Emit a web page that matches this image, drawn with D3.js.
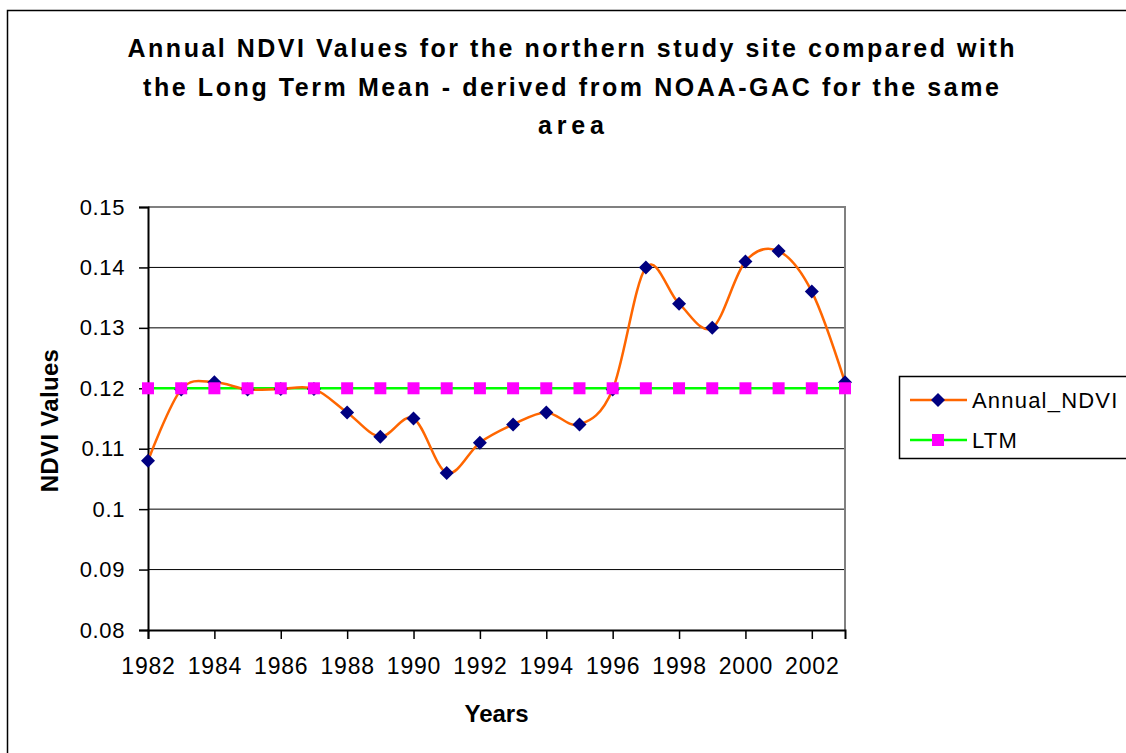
<!DOCTYPE html>
<html>
<head>
<meta charset="utf-8">
<script src="https://cdn.jsdelivr.net/npm/d3@7"></script>
<style>
  html, body { margin: 0; padding: 0; background: #fff; }
  svg { display: block; font-family: "Liberation Sans", Arial, sans-serif; }
</style>
</head>
<body>
<div id="chart"></div>
<script>
const years = d3.range(1982, 2004);
const annualNdvi = [0.108, 0.1198, 0.121, 0.1198, 0.1199, 0.1199, 0.116, 0.112, 0.115, 0.106, 0.111,
  0.114, 0.116, 0.114, 0.1198, 0.140, 0.134, 0.130, 0.141, 0.1427, 0.136, 0.121];
const ltm = years.map(() => 0.12);
const yTicks = [0.08, 0.09, 0.1, 0.11, 0.12, 0.13, 0.14, 0.15];
const xTickYears = d3.range(1982, 2003, 2);
const titleLines = [
  "Annual NDVI Values for the northern study site compared with",
  "the Long Term Mean - derived from NOAA-GAC for the same",
  "area"
];
const seriesNames = ["Annual_NDVI", "LTM"];

const width = 1126;
const height = 753;
const plot = { left: 148, right: 845, top: 207, bottom: 630 };

const svg = d3.select("#chart")
  .append("svg")
  .attr("width", width)
  .attr("height", height);

// outer chart frame
svg.append("rect")
  .attr("x", 7.5).attr("y", 10.5)
  .attr("width", width + 20).attr("height", height + 20)
  .attr("fill", "#fff")
  .attr("stroke", "#000")
  .attr("stroke-width", 1.5);

const x = d3.scaleLinear().domain([1982, 2003]).range([plot.left, plot.right]);
const y = d3.scaleLinear().domain([0.08, 0.15]).range([plot.bottom, plot.top]);

// title
const titleWidths = [887, 856, 66];
titleLines.forEach((line, i) => {
  svg.append("text")
    .attr("x", 571)
    .attr("y", 57 + i * 38.5)
    .attr("text-anchor", "middle")
    .attr("font-size", 25)
    .attr("font-weight", "bold")
    .attr("fill", "#000")
    .attr("textLength", titleWidths[i])
    .attr("lengthAdjust", "spacing")
    .text(line);
});

// gridlines
svg.append("g")
  .selectAll("line")
  .data(yTicks.slice(1, -1))
  .join("line")
  .attr("x1", plot.left).attr("x2", plot.right)
  .attr("y1", (d) => y(d)).attr("y2", (d) => y(d))
  .attr("stroke", "#000")
  .attr("stroke-width", 1);

// plot area border (top, right)
svg.append("path")
  .attr("d", `M${plot.left},${plot.top}H${plot.right}V${plot.bottom}`)
  .attr("fill", "none")
  .attr("stroke", "#808080")
  .attr("stroke-width", 2);

// axes
const yAxis = svg.append("g")
  .attr("transform", `translate(${plot.left},0)`)
  .call(d3.axisLeft(y).tickValues(yTicks).tickSize(9).tickPadding(14)
    .tickFormat((d) => String(+d.toFixed(2))));
const xAxis = svg.append("g")
  .attr("transform", `translate(0,${plot.bottom})`)
  .call(d3.axisBottom(x).tickValues(xTickYears).tickSize(9).tickPadding(14)
    .tickFormat(d3.format("d")));

[yAxis, xAxis].forEach((g) => {
  g.select(".domain").attr("stroke", "#000").attr("stroke-width", 2);
  g.selectAll(".tick line").attr("stroke", "#000").attr("stroke-width", 1.5);
  g.selectAll(".tick text")
    .attr("fill", "#000")
    .attr("font-size", 22)
    .attr("font-family", "'Liberation Sans', Arial, sans-serif")
    .attr("letter-spacing", 0.6);
});
xAxis.selectAll(".tick text")
  .attr("font-size", 23)
  .attr("letter-spacing", 0.8)
  .attr("dy", "0.9em");

// axis titles
svg.append("text")
  .attr("x", (plot.left + plot.right) / 2)
  .attr("y", 722)
  .attr("text-anchor", "middle")
  .attr("font-size", 24)
  .attr("font-weight", "bold")
  .text("Years");

svg.append("text")
  .attr("transform", `translate(58,${(plot.top + plot.bottom) / 2 + 2}) rotate(-90)`)
  .attr("text-anchor", "middle")
  .attr("font-size", 24)
  .attr("font-weight", "bold")
  .attr("letter-spacing", 0.3)
  .text("NDVI Values");

// series
const lineGen = d3.line()
  .x((d, i) => x(years[i]))
  .y((d) => y(d))
  .curve(d3.curveCatmullRom.alpha(0));

svg.append("path")
  .datum(ltm)
  .attr("d", d3.line().x((d, i) => x(years[i])).y((d) => y(d)))
  .attr("fill", "none")
  .attr("stroke", "#00ff00")
  .attr("stroke-width", 2.5);

svg.append("path")
  .datum(annualNdvi)
  .attr("d", lineGen)
  .attr("fill", "none")
  .attr("stroke", "#ff6600")
  .attr("stroke-width", 2.5);

const diamond = "M0,-7L7,0L0,7L-7,0Z";

svg.append("g")
  .selectAll("path")
  .data(annualNdvi)
  .join("path")
  .attr("d", diamond)
  .attr("transform", (d, i) => `translate(${x(years[i])},${y(d)})`)
  .attr("fill", "#000080");

svg.append("g")
  .selectAll("rect")
  .data(ltm)
  .join("rect")
  .attr("x", (d, i) => x(years[i]) - 6)
  .attr("y", (d) => y(d) - 6)
  .attr("width", 12).attr("height", 12)
  .attr("fill", "#ff00ff");

// legend
const legend = svg.append("g");
legend.append("rect")
  .attr("x", 899.5).attr("y", 376.5)
  .attr("width", 260).attr("height", 82)
  .attr("fill", "#fff")
  .attr("stroke", "#000")
  .attr("stroke-width", 1.5);

const legendColors = ["#ff6600", "#00ff00"];
seriesNames.forEach((name, i) => {
  const cy = 400 + i * 40;
  legend.append("line")
    .attr("x1", 910).attr("x2", 967)
    .attr("y1", cy).attr("y2", cy)
    .attr("stroke", legendColors[i])
    .attr("stroke-width", 2.5);
  if (i === 0) {
    legend.append("path")
      .attr("d", diamond)
      .attr("transform", `translate(938,${cy})`)
      .attr("fill", "#000080");
  } else {
    legend.append("rect")
      .attr("x", 932).attr("y", cy - 6)
      .attr("width", 12).attr("height", 12)
      .attr("fill", "#ff00ff");
  }
  legend.append("text")
    .attr("x", 972)
    .attr("y", cy + 8)
    .attr("font-size", 22)
    .attr("letter-spacing", 1.2)
    .attr("fill", "#000")
    .text(name);
});
</script>
</body>
</html>
